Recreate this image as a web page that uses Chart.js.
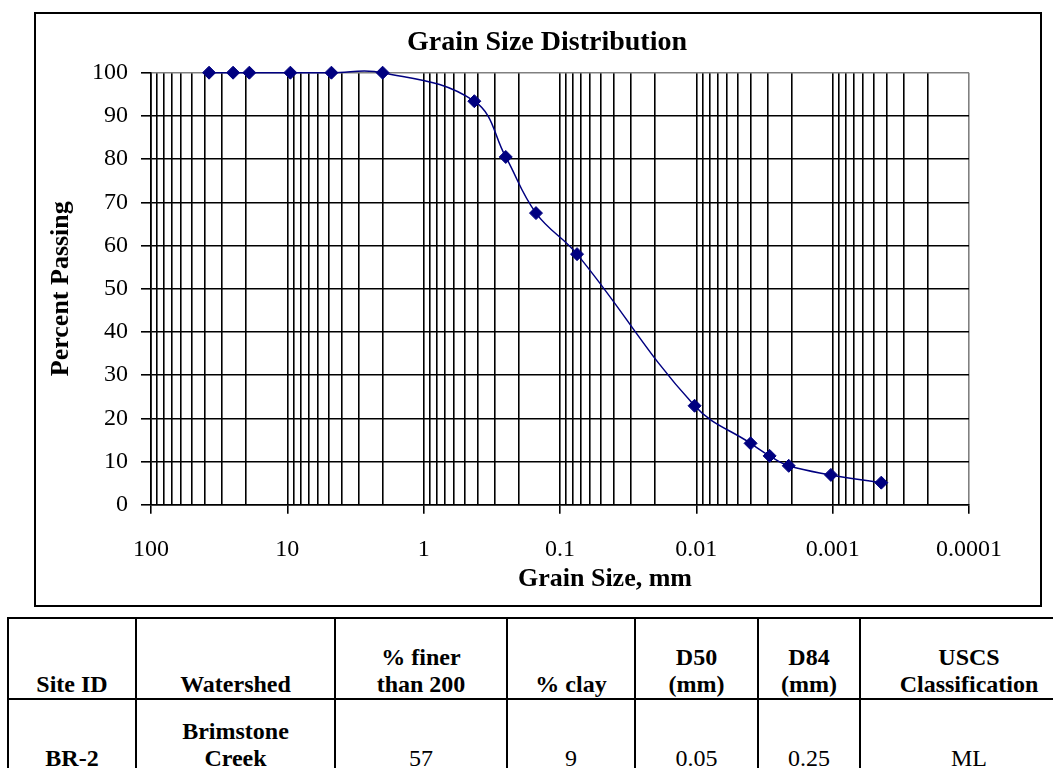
<!DOCTYPE html>
<html lang="en">
<head>
  <meta charset="UTF-8">
  <title>Grain Size Distribution</title>
  <script src="https://cdn.jsdelivr.net/npm/chart.js"></script>
  <style>
    body {
      margin: 0;
      width: 1053px;
      height: 768px;
      overflow: hidden;
      background: #fff;
      font-family: "Liberation Serif", "Times New Roman", serif;
      position: relative;
    }
    .chart-box {
      position: absolute;
      left: 34px;
      top: 12px;
      width: 1008px;
      height: 595px;
      box-sizing: border-box;
      border: 2px solid #000;
    }
    .chart-box canvas {
      position: absolute;
      left: 0;
      top: 0;
    }
    .chart-title {
      position: absolute;
      left: 347px;
      width: 400px;
      top: 25px;
      text-align: center;
      font-weight: bold;
      font-size: 28px;
      line-height: 32px;
      white-space: nowrap;
    }
    .x-title {
      position: absolute;
      left: 455px;
      width: 300px;
      top: 563px;
      text-align: center;
      font-weight: bold;
      font-size: 26px;
      line-height: 30px;
      white-space: nowrap;
    }
    table {
      position: absolute;
      left: 7px;
      top: 617px;
      border-collapse: collapse;
      table-layout: fixed;
      width: 1070px;
      font-size: 24px;
      line-height: 27px;
    }
    td, th {
      border: 2px solid #000;
      text-align: center;
      vertical-align: bottom;
      padding: 0 2px 0 2px;
    }
    th { font-weight: bold; height: 79px; }
    td { height: 72px; }
    .bold { font-weight: bold; }
  </style>
</head>
<body>

<div class="chart-box">
  <canvas id="gsd" width="1004" height="591"></canvas>
</div>
<div class="chart-title">Grain Size Distribution</div>
<div class="x-title">Grain Size, mm</div>

<table>
  <colgroup>
    <col style="width:128px"><col style="width:199px"><col style="width:172px">
    <col style="width:128px"><col style="width:123px"><col style="width:102px"><col style="width:218px">
  </colgroup>
  <tr>
    <th>Site ID</th>
    <th>Watershed</th>
    <th>% finer<br>than 200</th>
    <th>% clay</th>
    <th>D50<br>(mm)</th>
    <th>D84<br>(mm)</th>
    <th>USCS<br>Classification</th>
  </tr>
  <tr>
    <td class="bold">BR-2</td>
    <td class="bold">Brimstone<br>Creek</td>
    <td>57</td>
    <td>9</td>
    <td>0.05</td>
    <td>0.25</td>
    <td>ML</td>
  </tr>
</table>

<script>
  // sieve / hydrometer results
  const grainSizes = [37.5, 25, 19, 9.5, 4.75, 2, 0.425, 0.25, 0.15, 0.075, 0.0103, 0.0040, 0.0029, 0.0021, 0.00103, 0.00044];
  const percentPassing = [100, 100, 100, 100, 100, 100, 93.4, 80.5, 67.5, 58.0, 22.9, 14.2, 11.3, 9.0, 6.9, 5.1];

  // axis ticks
  const xMajorTicks = [100, 10, 1, 0.1, 0.01, 0.001, 0.0001];
  const xTickLabels = ['100', '10', '1', '0.1', '0.01', '0.001', '0.0001'];
  const yTicks = [0, 10, 20, 30, 40, 50, 60, 70, 80, 90, 100];

  const navy = '#000080';
  const serif = '"Liberation Serif", "Times New Roman", serif';

  // majors plus 2..9 minors in every decade
  const xAllTicks = [];
  xMajorTicks.forEach((m, i) => {
    xAllTicks.push({ value: m, major: true });
    if (i < xMajorTicks.length - 1) {
      for (let k = 9; k >= 2; k--) {
        xAllTicks.push({ value: k * xMajorTicks[i + 1], major: false });
      }
    }
  });

  const ctx = document.getElementById('gsd').getContext('2d');
  const chart = new Chart(ctx, {
    type: 'line',
    data: {
      datasets: [{
        data: grainSizes.map((g, i) => ({ x: g, y: percentPassing[i] })),
        borderColor: navy,
        backgroundColor: navy,
        borderWidth: 1.5,
        tension: 0.4,
        pointStyle: 'rectRot',
        pointRadius: 6.5,
        pointBorderWidth: 1,
        pointBackgroundColor: navy,
        pointBorderColor: navy,
        clip: false
      }]
    },
    options: {
      responsive: false,
      animation: false,
      layout: {
        padding: { left: 0, right: 71, top: 58.7, bottom: 0 }
      },
      elements: {
        line: { capBezierPoints: false }
      },
      plugins: {
        legend: { display: false },
        tooltip: { enabled: false },
        title: { display: false }
      },
      scales: {
        x: {
          type: 'logarithmic',
          reverse: true,
          min: 0.0001,
          max: 100,
          afterBuildTicks: (scale) => {
            scale.ticks = xAllTicks.map(t => ({ value: t.value, major: t.major }));
          },
          afterFit: (scale) => { scale.height = 100.3; },
          ticks: {
            autoSkip: false,
            maxRotation: 0,
            padding: 22,
            color: '#000',
            font: { family: serif, size: 24 },
            callback: (value) => {
              const idx = xMajorTicks.indexOf(value);
              return idx >= 0 ? xTickLabels[idx] : '';
            }
          },
          grid: {
            color: (c) => (c.tick && c.tick.value === 0.0001) ? '#808080' : '#000',
            lineWidth: 1.6,
            tickLength: 9,
            tickColor: (c) => (c.tick && c.tick.major) ? '#000' : 'rgba(0,0,0,0)'
          },
          border: { color: '#000', width: 1.6 }
        },
        y: {
          min: 0,
          max: 100,
          afterBuildTicks: (scale) => {
            scale.ticks = yTicks.map(v => ({ value: v }));
          },
          afterFit: (scale) => { scale.width = 115; },
          ticks: {
            padding: 13,
            color: '#000',
            font: { family: serif, size: 24 }
          },
          grid: {
            color: (c) => (c.tick && c.tick.value === 100) ? '#808080' : '#000',
            lineWidth: 1.6,
            tickLength: 10,
            tickColor: '#000'
          },
          border: { color: '#000', width: 1.6 },
          title: {
            display: true,
            text: 'Percent Passing',
            color: '#000',
            font: { family: serif, size: 26, weight: 'bold' },
            padding: { top: 10, bottom: 0 }
          }
        }
      }
    }
  });
</script>

</body>
</html>
